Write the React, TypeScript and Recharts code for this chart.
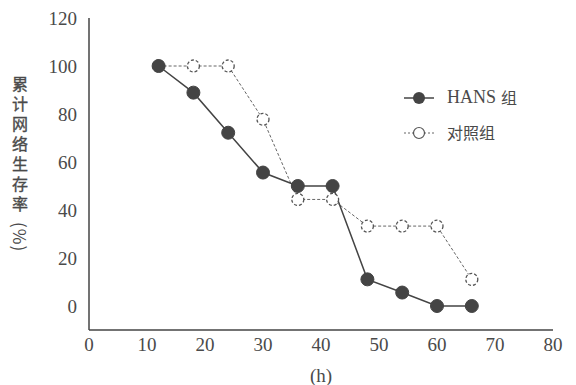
import { LineChart, Line, XAxis, YAxis } from "recharts";

const hours = [12, 18, 24, 30, 36, 42, 48, 54, 60, 66];
const hansRate = [100, 88.9, 72.2, 55.6, 50, 50, 11.1, 5.6, 0, 0];
const controlRate = [100, 100, 100, 77.8, 44.4, 44.4, 33.3, 33.3, 33.3, 11.1];
const xTicks = [0, 10, 20, 30, 40, 50, 60, 70, 80];
const yTicks = [0, 20, 40, 60, 80, 100, 120];

const data = hours.map((h, i) => ({ h, hans: hansRate[i], control: controlRate[i] }));

const serif = "'Liberation Serif', 'Times New Roman', Times, serif";
const cjk = "'Noto Sans CJK SC', sans-serif";

// vertical y title, one text run set top-to-bottom
const YTitle = () => (
  <text
    x={20}
    y={76}
    fontSize={16}
    fontFamily={cjk}
    fill="#4a4a4a"
    stroke="#4a4a4a"
    strokeWidth={0.35}
    letterSpacing={4}
    style={{ writingMode: "vertical-rl", textOrientation: "mixed" }}
  >
    累计网络生存率
    <tspan dy={6} letterSpacing={1} fontSize={17} strokeWidth={0}>
      (%)
    </tspan>
  </text>
);

const LegendBox = () => (
  <div
    style={{
      position: "absolute",
      top: 80,
      left: 402,
      fontSize: 18,
      color: "#4a4a4a",
      lineHeight: "35px",
    }}
  >
    <div style={{ display: "flex", alignItems: "center" }}>
      <svg width={34} height={16}>
        <line x1={2} y1={8} x2={32} y2={8} stroke="#444" strokeWidth={1.5} />
        <circle cx={17} cy={8} r={6} fill="#444" />
      </svg>
      <span style={{ marginLeft: 11, fontFamily: serif }}>HANS</span>
      <span style={{ marginLeft: 5, fontFamily: cjk, fontSize: 16 }}>组</span>
    </div>
    <div style={{ display: "flex", alignItems: "center" }}>
      <svg width={34} height={16}>
        <line x1={2} y1={8} x2={32} y2={8} stroke="#666" strokeWidth={1} strokeDasharray="2 2" />
        <circle cx={17} cy={8} r={5.5} fill="#fff" stroke="#555" strokeWidth={1.2} />
      </svg>
      <span style={{ marginLeft: 11, fontFamily: cjk, fontSize: 16 }}>对照组</span>
    </div>
  </div>
);

export default function App() {
  return (
    <div style={{ position: "absolute", top: 0, left: 0, background: "#fff", fontFamily: serif }}>
      <LineChart
        width={576}
        height={385}
        data={data}
        style={{ fontFamily: serif }}
        margin={{ top: 18, right: 23, left: 29, bottom: 25 }}
      >
        <XAxis
          dataKey="h"
          type="number"
          domain={[0, 80]}
          ticks={xTicks}
          tickLine={false}
          tickMargin={2}
          height={30}
          axisLine={{ stroke: "#444", strokeWidth: 1.5 }}
          tick={{ fontSize: 19, fill: "#4a4a4a" }}
          label={{
            value: "(h)",
            position: "insideBottom",
            offset: -22,
            style: { fontSize: 19, fill: "#4a4a4a" },
          }}
        />
        <YAxis
          type="number"
          domain={[-10, 120]}
          ticks={yTicks}
          tickLine={false}
          width={60}
          tickMargin={6}
          axisLine={{ stroke: "#444", strokeWidth: 1.5 }}
          tick={{ fontSize: 19, fill: "#4a4a4a" }}
          label={<YTitle />}
        />
        <Line
          dataKey="control"
          stroke="#666"
          strokeWidth={1}
          strokeDasharray="3 2"
          dot={{ r: 6, fill: "#fff", stroke: "#555", strokeWidth: 1.3 }}
          isAnimationActive={false}
        />
        <Line
          dataKey="hans"
          stroke="#444"
          strokeWidth={1.5}
          dot={{ r: 6.5, fill: "#444", stroke: "#444", strokeWidth: 1 }}
          isAnimationActive={false}
        />
      </LineChart>
      <LegendBox />
    </div>
  );
}
